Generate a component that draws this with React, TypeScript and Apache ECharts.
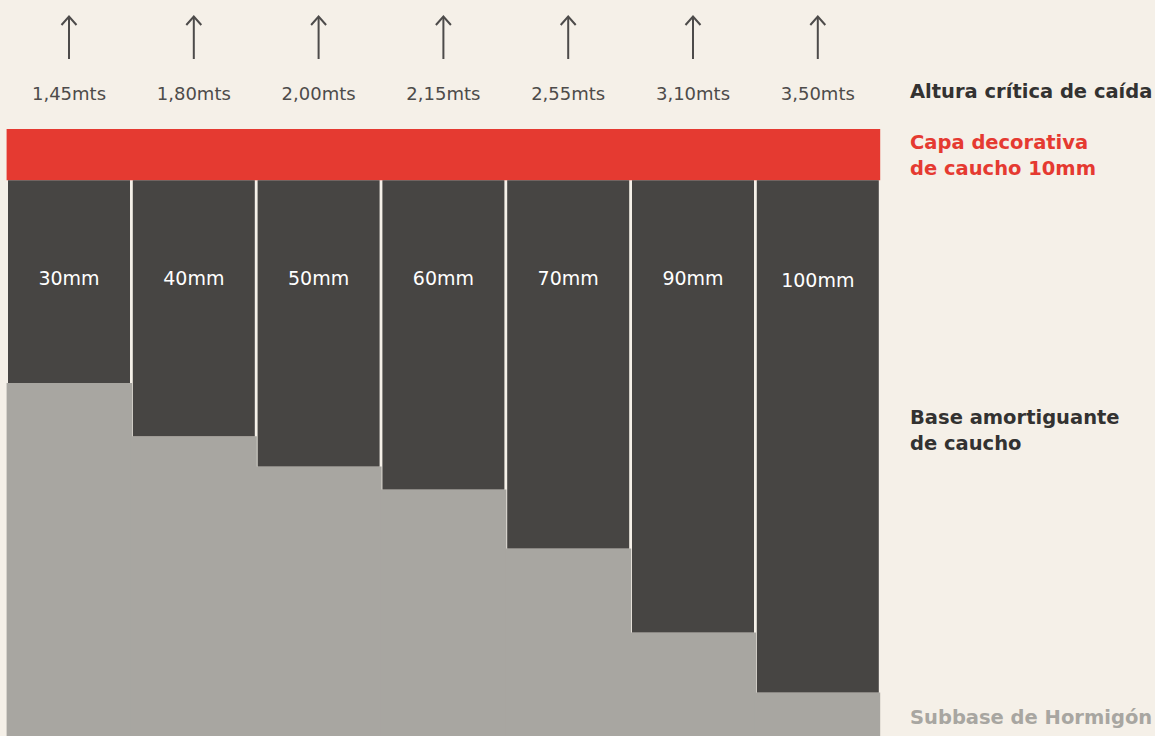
import React, { useEffect, useRef } from "react";
import * as echarts from "echarts";

// Rubber base thickness per column (category labels drawn inside the bars)
const thicknessLabels = ["30mm", "40mm", "50mm", "60mm", "70mm", "90mm", "100mm"];
// Critical fall height per column (metres)
const fallHeights = [1.45, 1.8, 2.0, 2.15, 2.55, 3.1, 3.5];
// Drawn depth of each rubber base column, in the chart's vertical mm scale
const baseDepth = [39.6, 50.0, 55.9, 60.4, 71.9, 88.3, 100.0];
// Decorative rubber top layer thickness (mm)
const decorLayer = 10;
// Bottom of the chart (concrete subbase), same vertical scale
const depthMax = 108.5;

const sideLabels = {
  height: "Altura crítica de caída",
  decor: "Capa decorativa\nde caucho 10mm",
  base: "Base amortiguante\nde caucho",
  subbase: "Subbase de Hormigón",
};

const FONT = '"DejaVu Sans", sans-serif';
const BG = "#F5F0E8";
const RED = "#E53A31";
const DARK = "#474543";
const GRAY = "#A8A6A1";
const TEXT = "#4D4B4A";

export default function App() {
  const ref = useRef<HTMLDivElement>(null);

  useEffect(() => {
    document.body.style.margin = "0";
    document.body.style.background = BG;
    const chart = echarts.init(ref.current!, null, { renderer: "svg" });

    const option: any = {
      animation: false,
      backgroundColor: BG,
      grid: { left: 6.6, right: 274.8, top: 129, bottom: 0, containLabel: false },
      xAxis: [
        {
          type: "category",
          data: thicknessLabels,
          position: "top",
          axisLine: { show: false },
          axisTick: { show: false },
          splitLine: { show: false },
          axisLabel: {
            margin: 27,
            color: TEXT,
            fontFamily: FONT,
            fontSize: 18,
            formatter: (_v: string, i: number) =>
              fallHeights[i].toFixed(2).replace(".", ",") + "mts",
          },
        },
        {
          type: "category",
          data: thicknessLabels,
          show: false,
        },
      ],
      yAxis: {
        type: "value",
        inverse: true,
        min: -decorLayer,
        max: depthMax,
        show: false,
        splitLine: { show: false },
      },
      series: [
        {
          name: "base-offset",
          type: "bar",
          xAxisIndex: 1,
          stack: "g",
          barWidth: "101%",
          silent: true,
          itemStyle: { color: "transparent" },
          data: baseDepth,
          z: 1,
        },
        {
          name: "Subbase de Hormigón",
          type: "bar",
          xAxisIndex: 1,
          stack: "g",
          barWidth: "101%",
          silent: true,
          itemStyle: { color: GRAY },
          data: baseDepth.map((d) => depthMax - d),
          z: 1,
        },
        {
          name: "Base amortiguante de caucho",
          type: "bar",
          xAxisIndex: 0,
          barWidth: 122,
          itemStyle: { color: DARK },
          z: 3,
          label: {
            show: true,
            position: "insideTop",
            distance: 88,
            color: "#FFFFFF",
            fontFamily: FONT,
            fontSize: 19,
            formatter: (p: any) => thicknessLabels[p.dataIndex],
          },
          data: baseDepth.map((d, i) =>
            i === baseDepth.length - 1
              ? { value: d, label: { offset: [0, 2] } }
              : d
          ),
          markArea: {
            silent: true,
            itemStyle: { color: RED },
            data: [[{ yAxis: -decorLayer }, { yAxis: 0 }]],
          },
        },
      ],
    };
    chart.setOption(option);

    // arrows above each column, x from the category axis
    const graphics: any[] = [];
    thicknessLabels.forEach((_c, i) => {
      const x = chart.convertToPixel({ xAxisIndex: 0 }, i) as number;
      graphics.push({
        type: "line",
        shape: { x1: x, y1: 17, x2: x, y2: 59 },
        style: { stroke: TEXT, lineWidth: 2 },
      });
      graphics.push({
        type: "polyline",
        shape: { points: [[x - 7.5, 25], [x, 16.5], [x + 7.5, 25]] },
        style: { stroke: TEXT, lineWidth: 2, fill: null },
      });
    });
    const side = (text: string, y: number, color: string) => ({
      type: "text",
      left: 910,
      top: y,
      style: {
        text,
        fill: color,
        font: `bold 19.5px ${FONT}`,
        lineHeight: 26.5,
      },
    });
    graphics.push(side(sideLabels.height, 78, "#333231"));
    graphics.push(side(sideLabels.decor, 129, RED));
    graphics.push(side(sideLabels.base, 404, "#333231"));
    graphics.push(side(sideLabels.subbase, 704, GRAY));
    chart.setOption({ graphic: graphics });

    return () => chart.dispose();
  }, []);

  return (
    <div
      ref={ref}
      style={{ position: "fixed", left: 0, top: 0, width: 1155, height: 736 }}
    />
  );
}
